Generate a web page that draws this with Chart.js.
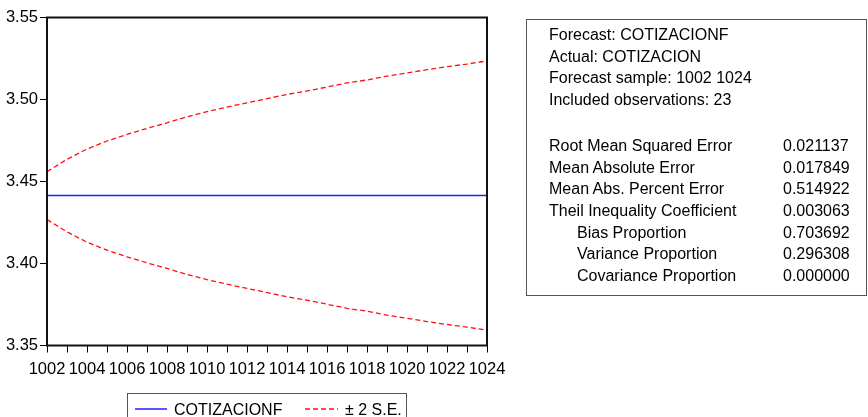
<!DOCTYPE html>
<html>
<head>
<meta charset="utf-8">
<script src="https://cdn.jsdelivr.net/npm/chart.js@4/dist/chart.umd.min.js"></script>
<style>
  html, body { margin: 0; padding: 0; background: #fff; }
  #wrap { position: relative; width: 868px; height: 417px; overflow: hidden;
          font-family: "Liberation Sans", Arial, sans-serif; color: #000; }
  #chart { position: absolute; left: 0; top: 0; }
  #stats { position: absolute; left: 526px; top: 19px; width: 341px; height: 277px;
           border: 1px solid #555; box-sizing: border-box; }
  .row { position: absolute; white-space: nowrap; font-size: 16px; line-height: 22px; }
  #legend { position: absolute; left: 127px; top: 393px; width: 280px; height: 40px;
            border: 1px solid #555; box-sizing: border-box; }
</style>
</head>
<body>
<div id="wrap">
  <canvas id="chart" width="868" height="417"></canvas>
  <div id="stats"></div>
  <div id="legend"></div>
  <div id="rows"></div>
</div>
<script>
// Forecast periods
const categories = ['1002','1003','1004','1005','1006','1007','1008','1009','1010','1011','1012',
                    '1013','1014','1015','1016','1017','1018','1019','1020','1021','1022','1023','1024'];

// Point forecast COTIZACIONF
const forecast = [3.4414,3.4414,3.4414,3.4414,3.4414,3.4414,3.4414,3.4414,3.4414,3.4414,3.4414,
                  3.4414,3.4414,3.4414,3.4414,3.4414,3.4414,3.4414,3.4414,3.4414,3.4414,3.4414,3.4414];

// Forecast +/- 2 standard errors
const upperBand = [3.4560,3.4635,3.4698,3.4747,3.4787,3.4824,3.4858,3.4895,3.4926,3.4954,3.4980,
                   3.5005,3.5031,3.5052,3.5076,3.5101,3.5119,3.5143,3.5162,3.5182,3.5200,3.5216,3.5235];
const lowerBand = [3.4268,3.4193,3.4130,3.4081,3.4041,3.4004,3.3970,3.3933,3.3902,3.3874,3.3848,
                   3.3823,3.3797,3.3776,3.3752,3.3727,3.3709,3.3685,3.3666,3.3646,3.3628,3.3612,3.3593];

const yTicks = [3.35, 3.40, 3.45, 3.50, 3.55];

// Forecast evaluation statistics
const headerLines = ['Forecast: COTIZACIONF', 'Actual: COTIZACION',
                     'Forecast sample: 1002 1024', 'Included observations: 23'];
const statNames = ['Root Mean Squared Error', 'Mean Absolute Error', 'Mean Abs. Percent Error',
                   'Theil Inequality Coefficient', 'Bias Proportion', 'Variance Proportion',
                   'Covariance Proportion'];
const statValues = ['0.021137', '0.017849', '0.514922', '0.003063', '0.703692', '0.296308', '0.000000'];
const statIndent = [false, false, false, false, true, true, true];

const FONT = '"Liberation Sans", Arial, sans-serif';
const BLUE = '#1f1fff';
const RED = '#ff1010';

// Box around the plotting area, drawn over the series
const framePlugin = {
  id: 'frame',
  afterDraw(chart) {
    const { ctx, chartArea: a } = chart;
    ctx.save();
    ctx.strokeStyle = '#111';
    ctx.lineWidth = 2;
    ctx.strokeRect(a.left, a.top, a.right - a.left, a.bottom - a.top);
    ctx.restore();
  }
};

const bandStyle = { borderColor: RED, borderWidth: 1.3, borderDash: [5, 3],
                    pointRadius: 0, fill: false, tension: 0 };

new Chart(document.getElementById('chart'), {
  type: 'line',
  data: {
    labels: categories,
    datasets: [
      { label: 'COTIZACIONF', data: forecast, borderColor: BLUE, borderWidth: 1.5,
        pointRadius: 0, fill: false, tension: 0 },
      Object.assign({ label: '± 2 S.E.', data: upperBand }, bandStyle),
      Object.assign({ label: '± 2 S.E. (lower)', data: lowerBand }, bandStyle)
    ]
  },
  options: {
    responsive: false,
    animation: false,
    devicePixelRatio: 1,
    layout: { padding: { top: 17.5, right: 381, left: 0, bottom: 0 } },
    plugins: { legend: { display: false }, tooltip: { enabled: false } },
    scales: {
      x: {
        type: 'category',
        offset: false,
        border: { display: false },
        grid: { drawOnChartArea: false, drawTicks: true, tickLength: 7, color: '#000', lineWidth: 1 },
        ticks: {
          autoSkip: false, maxRotation: 0, minRotation: 0, padding: 7, color: '#000',
          font: { family: FONT, size: 16.5 },
          callback: (v, i) => (i % 2 === 0 ? categories[i] : '')
        },
        afterFit: s => { s.height = 71.5; }
      },
      y: {
        min: 3.35, max: 3.55,
        border: { display: false },
        afterBuildTicks: s => { s.ticks = yTicks.map(v => ({ value: v })); },
        grid: { drawOnChartArea: false, drawTicks: true, tickLength: 7, color: '#000', lineWidth: 1 },
        ticks: {
          padding: 2, color: '#000',
          font: { family: FONT, size: 16.5 },
          callback: v => Number(v).toFixed(2)
        },
        afterFit: s => { s.width = 47; }
      }
    }
  },
  plugins: [framePlugin]
});

// Statistics text
const rows = document.getElementById('rows');
function addText(text, left, centerY) {
  const d = document.createElement('div');
  d.className = 'row';
  d.textContent = text;
  d.style.left = left + 'px';
  d.style.top = (centerY - 11) + 'px';
  rows.appendChild(d);
}
const headerY = [35, 56.5, 78, 99.5];
headerLines.forEach((t, i) => addText(t, 549, headerY[i]));
const statY = [146, 167.7, 189.3, 211, 232.7, 254.3, 276];
statNames.forEach((t, i) => {
  addText(t, statIndent[i] ? 577 : 549, statY[i]);
  addText(statValues[i], 783, statY[i]);
});

// Legend
const legend = document.getElementById('legend');
legend.innerHTML =
  '<svg width="280" height="40" style="position:absolute;left:-1px;top:-1px">' +
  '<line x1="8" y1="16" x2="40" y2="16" stroke="' + BLUE + '" stroke-width="1.5"/>' +
  '<line x1="178" y1="16" x2="211" y2="16" stroke="' + RED + '" stroke-width="1.3" stroke-dasharray="5,3"/>' +
  '</svg>';
addText('COTIZACIONF', 174, 409.5);
addText('± 2 S.E.', 345, 409.5);
</script>
</body>
</html>
